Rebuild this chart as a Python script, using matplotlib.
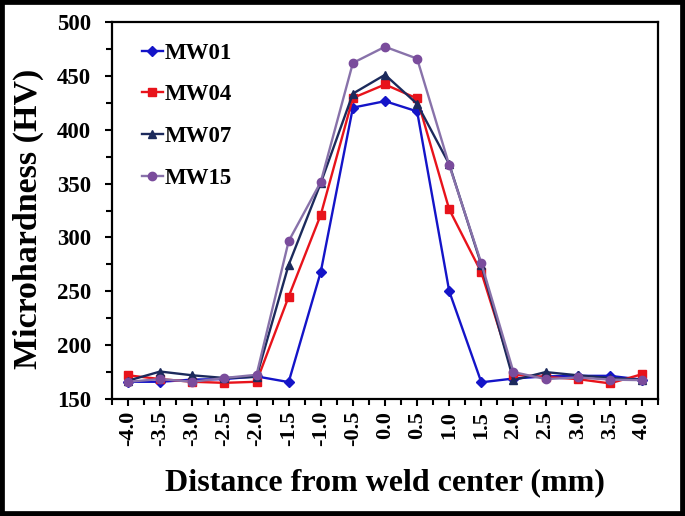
#!/usr/bin/env python3
import matplotlib
matplotlib.use("Agg")
import matplotlib.pyplot as plt
from matplotlib.patches import Rectangle
from matplotlib.ticker import MultipleLocator

# Distance from weld center (mm) - used as category labels
distance = ["-4.0", "-3.5", "-3.0", "-2.5", "-2.0", "-1.5", "-1.0", "-0.5", "0.0",
            "0.5", "1.0", "1.5", "2.0", "2.5", "3.0", "3.5", "4.0"]

mw01 = [166, 166, 168, 168.5, 171, 165.7, 268, 420.5, 426.5, 417, 250, 165.5,
        169, 171, 171.5, 171.5, 168]
mw04 = [172, 168.5, 166, 165, 166, 245, 321, 429.5, 442, 429, 326, 267.5,
        172.5, 170.5, 168.5, 164.5, 173]
mw07 = [167, 175.5, 172, 169.5, 170.5, 274.5, 350.5, 433.5, 451, 424, 368, 274.5,
        167.5, 175, 172, 169.5, 168]
mw15 = [166, 168.5, 166, 169.5, 172.5, 296.5, 351.5, 462, 477, 466, 367, 276,
        175, 168.5, 170, 168, 167.5]


def plot():
    plt.rcParams["font.family"] = ["Liberation Serif", "DejaVu Serif"]
    plt.rcParams["font.weight"] = "bold"

    fig = plt.figure(figsize=(6.85, 5.16), dpi=100)
    ax = fig.add_axes([112 / 685, 1 - 399 / 516, 546 / 685, 377 / 516])

    x = list(range(len(distance)))
    ax.plot(x, mw01, color="#1414c8", lw=1.7, marker="D", ms=5, label="MW01")
    ax.plot(x, mw04, color="#e8131b", lw=1.7, marker="s", ms=6, label="MW04")
    ax.plot(x, mw07, color="#1c2a5c", lw=1.7, marker="^", ms=6, label="MW07")
    ax.plot(x, mw15, color="#8872aa", lw=1.7, marker="o", ms=6,
            markerfacecolor="#7a4c9c", markeredgecolor="#7a4c9c", label="MW15")

    ax.set_xlim(-0.5, len(distance) - 0.5)
    ax.set_ylim(150, 500)
    ax.set_xticks(x)
    ax.set_xticklabels(distance, rotation=90, fontsize=16, fontweight="bold")
    ax.xaxis.set_minor_locator(MultipleLocator(0.5))
    ax.yaxis.set_major_locator(MultipleLocator(50))
    ax.yaxis.set_minor_locator(MultipleLocator(25))
    for lbl in ax.get_yticklabels():
        lbl.set_fontsize(16.5)
        lbl.set_fontweight("bold")
    ax.tick_params(which="major", direction="out", length=5, width=1.5)
    ax.tick_params(which="minor", direction="out", length=4, width=1.5)
    ax.tick_params(axis="y", which="major", pad=10)
    for sp in ax.spines.values():
        sp.set_linewidth(1.6)

    ax.set_xlabel("Distance from weld center (mm)", fontsize=23, fontweight="bold",
                  labelpad=16)
    ax.set_ylabel("Microhardness (HV)", fontsize=24.5, fontweight="bold")
    ax.yaxis.set_label_coords(-0.125, 0.477)

    ax.legend(loc="upper left", bbox_to_anchor=(0.055, 0.945), frameon=False,
              handlelength=0.9, handletextpad=0.1, labelspacing=0.9,
              borderaxespad=0, borderpad=0, prop={"weight": "bold", "size": 16.5})

    # black frame round the whole picture
    fig.patches.append(Rectangle((0, 0), 1, 1, transform=fig.transFigure,
                                 fill=False, edgecolor="black", lw=7))

    fig.savefig("out.png", dpi=100)


def main():
    plot()


if __name__ == "__main__":
    main()
